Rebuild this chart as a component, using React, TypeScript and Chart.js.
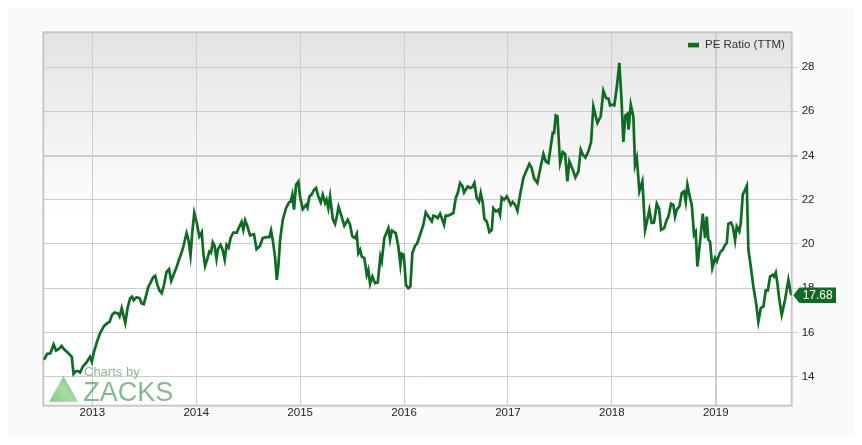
import { useEffect, useRef } from "react";
import { Chart, registerables } from "chart.js";

Chart.register(...registerables);

const SERIES_LABEL = "PE Ratio (TTM)";
const LAST_LABEL = "17.68";
const YEAR_TICKS = [2013, 2014, 2015, 2016, 2017, 2018, 2019];
const Y_TICKS = [14, 16, 18, 20, 22, 24, 26, 28];
const X_MIN = 2012.528;
const X_MAX = 2019.731;
const Y_MIN = 12.69;
const Y_MAX = 29.57;

const X_YEARS = [
  2012.535, 2012.564, 2012.596, 2012.627, 2012.651, 2012.675, 2012.704, 2012.728, 2012.757, 2012.776,
  2012.802, 2012.819, 2012.840, 2012.858, 2012.882, 2012.906, 2012.944, 2012.978, 2012.995, 2013.016,
  2013.045, 2013.077, 2013.113, 2013.141, 2013.166, 2013.190, 2013.214, 2013.247, 2013.262, 2013.283,
  2013.300, 2013.317, 2013.339, 2013.363, 2013.382, 2013.398, 2013.425, 2013.454, 2013.475, 2013.495,
  2013.519, 2013.538, 2013.560, 2013.584, 2013.605, 2013.623, 2013.644, 2013.668, 2013.688, 2013.714,
  2013.738, 2013.759, 2013.782, 2013.810, 2013.834, 2013.857, 2013.878, 2013.907, 2013.926, 2013.945,
  2013.964, 2013.981, 2014.005, 2014.030, 2014.053, 2014.068, 2014.085, 2014.107, 2014.126, 2014.142,
  2014.159, 2014.176, 2014.195, 2014.210, 2014.234, 2014.253, 2014.274, 2014.292, 2014.311, 2014.332,
  2014.357, 2014.390, 2014.412, 2014.436, 2014.453, 2014.470, 2014.492, 2014.518, 2014.556, 2014.580,
  2014.614, 2014.640, 2014.672, 2014.704, 2014.720, 2014.736, 2014.758, 2014.775, 2014.790, 2014.807,
  2014.833, 2014.864, 2014.893, 2014.908, 2014.925, 2014.941, 2014.961, 2014.983, 2014.999, 2015.025,
  2015.057, 2015.071, 2015.089, 2015.110, 2015.134, 2015.153, 2015.175, 2015.198, 2015.218, 2015.240,
  2015.254, 2015.271, 2015.288, 2015.314, 2015.336, 2015.352, 2015.370, 2015.394, 2015.425, 2015.458,
  2015.480, 2015.502, 2015.528, 2015.545, 2015.560, 2015.577, 2015.593, 2015.618, 2015.641, 2015.656,
  2015.673, 2015.695, 2015.721, 2015.747, 2015.772, 2015.785, 2015.810, 2015.849, 2015.865, 2015.882,
  2015.920, 2015.945, 2015.965, 2015.978, 2015.997, 2016.019, 2016.041, 2016.061, 2016.080, 2016.106,
  2016.125, 2016.154, 2016.186, 2016.209, 2016.234, 2016.267, 2016.282, 2016.305, 2016.324, 2016.347,
  2016.363, 2016.385, 2016.401, 2016.426, 2016.475, 2016.498, 2016.517, 2016.539, 2016.561, 2016.578,
  2016.597, 2016.613, 2016.635, 2016.657, 2016.677, 2016.700, 2016.722, 2016.738, 2016.758, 2016.773,
  2016.796, 2016.821, 2016.844, 2016.860, 2016.886, 2016.908, 2016.924, 2016.940, 2016.963, 2016.989,
  2017.014, 2017.027, 2017.046, 2017.069, 2017.091, 2017.117, 2017.148, 2017.181, 2017.206, 2017.229,
  2017.251, 2017.283, 2017.309, 2017.341, 2017.364, 2017.389, 2017.412, 2017.431, 2017.444, 2017.460,
  2017.476, 2017.502, 2017.528, 2017.550, 2017.572, 2017.591, 2017.624, 2017.649, 2017.678, 2017.701,
  2017.720, 2017.745, 2017.774, 2017.800, 2017.822, 2017.841, 2017.861, 2017.893, 2017.918, 2017.944,
  2017.967, 2017.983, 2018.009, 2018.024, 2018.047, 2018.072, 2018.092, 2018.111, 2018.130, 2018.149,
  2018.161, 2018.182, 2018.207, 2018.223, 2018.240, 2018.265, 2018.294, 2018.320, 2018.342, 2018.361,
  2018.384, 2018.406, 2018.432, 2018.455, 2018.474, 2018.503, 2018.529, 2018.544, 2018.570, 2018.592,
  2018.608, 2018.625, 2018.650, 2018.673, 2018.695, 2018.711, 2018.727, 2018.753, 2018.769, 2018.791,
  2018.807, 2018.823, 2018.849, 2018.875, 2018.897, 2018.913, 2018.929, 2018.945, 2018.967, 2018.993,
  2019.010, 2019.041, 2019.067, 2019.090, 2019.106, 2019.121, 2019.147, 2019.164, 2019.186, 2019.202,
  2019.227, 2019.241, 2019.260, 2019.282, 2019.299, 2019.314, 2019.337, 2019.362, 2019.388, 2019.410,
  2019.433, 2019.458, 2019.481, 2019.501, 2019.523, 2019.549, 2019.561, 2019.578, 2019.593, 2019.612,
  2019.635, 2019.667, 2019.699, 2019.722, 2019.731,
];

const PE_VALUES = [
  14.76, 15.03, 15.06, 15.46, 15.18, 15.24, 15.39, 15.24, 15.12, 15.03,
  14.90, 14.13, 14.24, 14.26, 14.19, 14.44, 14.65, 14.90, 14.68, 15.12,
  15.59, 16.00, 16.30, 16.41, 16.48, 16.80, 16.90, 16.86, 16.72, 17.10,
  16.75, 16.43, 17.11, 17.54, 17.62, 17.46, 17.59, 17.55, 17.31, 17.28,
  17.70, 18.06, 18.24, 18.49, 18.56, 18.21, 17.91, 17.78, 18.11, 18.74,
  18.86, 18.33, 18.61, 18.95, 19.29, 19.59, 19.92, 20.49, 20.17, 19.49,
  20.64, 21.40, 20.95, 20.34, 20.53, 19.60, 19.01, 19.33, 19.66, 19.60,
  20.08, 19.92, 19.33, 19.78, 19.96, 19.74, 19.29, 19.96, 19.83, 20.30,
  20.51, 20.51, 20.76, 21.00, 20.64, 21.07, 20.80, 20.39, 20.44, 19.76,
  19.92, 20.27, 20.31, 20.31, 20.61, 20.19, 19.43, 18.38, 18.98, 20.19,
  21.10, 21.62, 21.88, 21.91, 22.23, 21.55, 22.68, 22.83, 22.15, 21.58,
  21.77, 21.64, 22.15, 22.23, 22.45, 22.53, 22.15, 21.88, 22.23, 21.85,
  22.00, 21.62, 22.15, 21.13, 20.91, 21.22, 21.68, 21.32, 20.82, 21.10,
  20.87, 20.34, 20.27, 20.46, 19.59, 19.74, 19.43, 19.36, 18.61, 18.83,
  18.20, 18.53, 18.23, 18.26, 19.43, 19.21, 20.27, 20.72, 20.19, 20.61,
  20.49, 19.89, 19.06, 19.56, 19.51, 18.15, 18.00, 18.08, 19.59, 19.92,
  20.01, 20.42, 20.87, 21.43, 21.24, 21.02, 21.28, 21.24, 21.17, 21.37,
  21.17, 20.87, 21.28, 21.28, 21.40, 22.08, 22.30, 22.76, 22.63, 22.33,
  22.48, 22.60, 22.53, 22.57, 22.76, 22.08, 21.92, 22.30, 21.85, 21.13,
  21.02, 20.54, 20.64, 21.62, 21.47, 21.55, 21.32, 22.10, 22.00, 22.15,
  21.92, 21.77, 21.90, 21.77, 21.50, 22.23, 22.98, 23.36, 23.62, 23.43,
  22.98, 22.76, 23.36, 24.07, 23.73, 23.66, 24.41, 25.02, 25.02, 25.81,
  25.77, 23.66, 24.16, 24.07, 22.83, 23.73, 23.36, 23.01, 23.28, 24.26,
  24.04, 23.91, 24.19, 24.61, 26.22, 25.85, 25.47, 25.77, 26.93, 26.60,
  26.57, 26.27, 26.30, 26.27, 27.05, 28.19, 26.60, 24.61, 25.80, 25.88,
  25.17, 26.30, 25.77, 23.58, 23.89, 22.38, 22.83, 20.64, 21.10, 21.55,
  20.95, 20.97, 21.82, 21.59, 20.64, 20.72, 21.10, 21.22, 21.82, 21.77,
  21.24, 21.55, 21.70, 22.30, 22.38, 21.92, 22.68, 22.08, 21.77, 20.42,
  20.55, 18.98, 20.11, 21.37, 20.27, 21.24, 20.19, 20.11, 18.91, 19.36,
  19.21, 19.62, 19.74, 19.96, 20.04, 20.91, 20.97, 20.79, 20.16, 20.79,
  20.57, 20.95, 22.23, 22.45, 22.63, 19.74, 18.98, 18.08, 17.33, 16.49,
  17.10, 17.17, 17.90, 17.90, 18.53, 18.61, 18.53, 18.71, 18.23, 17.48,
  16.80, 17.48, 18.38, 17.79, 17.68,
];

const LINE_COLOR = "#0e6b22";
const GRID_COLOR = "#cccccc";
const FONT = "Arial, 'Liberation Sans', sans-serif";

const decorPlugin = {
  id: "decor",
  beforeDraw(chart: any) {
    const { ctx, chartArea: a } = chart;
    ctx.save();
    const g = ctx.createLinearGradient(0, a.top, 0, a.bottom);
    g.addColorStop(0, "#e3e3e3");
    g.addColorStop(0.5, "#ffffff");
    g.addColorStop(1, "#ffffff");
    ctx.fillStyle = g;
    ctx.fillRect(a.left, a.top, a.right - a.left, a.bottom - a.top);
    ctx.restore();
  },
  beforeDatasetsDraw(chart: any) {
    const { ctx, chartArea: a } = chart;
    ctx.save();
    ctx.strokeStyle = "#c8c8c8";
    ctx.lineWidth = 2;
    ctx.strokeRect(a.left, a.top, a.right - a.left, a.bottom - a.top);
    const bx = a.left;
    const by = a.bottom;
    const tg = ctx.createLinearGradient(bx + 6, by - 4, bx + 34, by - 28);
    tg.addColorStop(0, "rgba(110,190,110,0.85)");
    tg.addColorStop(0.5, "rgba(150,215,150,0.85)");
    tg.addColorStop(1, "rgba(90,175,95,0.85)");
    ctx.fillStyle = tg;
    ctx.beginPath();
    ctx.moveTo(bx + 5.7, by - 4);
    ctx.lineTo(bx + 34.7, by - 4);
    ctx.lineTo(bx + 20.2, by - 29.7);
    ctx.closePath();
    ctx.fill();
    ctx.fillStyle = "rgba(85,160,105,0.72)";
    ctx.textAlign = "left";
    ctx.textBaseline = "alphabetic";
    ctx.font = `13px ${FONT}`;
    ctx.fillText("Charts by", bx + 40.7, by - 30.2);
    ctx.font = `27px ${FONT}`;
    ctx.fillText("ZACKS", bx + 40, by - 4.7);
    ctx.restore();
  },
  afterDraw(chart: any) {
    const { ctx, chartArea: a } = chart;
    ctx.save();
    ctx.fillStyle = LINE_COLOR;
    ctx.fillRect(680, 34.8, 11, 4.6);
    ctx.fillStyle = "#333333";
    ctx.font = `11.5px ${FONT}`;
    ctx.textAlign = "left";
    ctx.textBaseline = "middle";
    ctx.fillText(chart.data.datasets[0].label, 697, 37.2);
    const last = PE_VALUES[PE_VALUES.length - 1];
    const y = chart.scales.y.getPixelForValue(last);
    const x0 = a.right + 1.6;
    ctx.fillStyle = LINE_COLOR;
    ctx.beginPath();
    ctx.moveTo(x0, y);
    ctx.lineTo(x0 + 6, y - 7.7);
    ctx.lineTo(x0 + 42.7, y - 7.7);
    ctx.lineTo(x0 + 42.7, y + 7.7);
    ctx.lineTo(x0 + 6, y + 7.7);
    ctx.closePath();
    ctx.fill();
    ctx.fillStyle = "#ffffff";
    ctx.textAlign = "center";
    ctx.font = `12px ${FONT}`;
    ctx.fillText(LAST_LABEL, x0 + 24.4, y + 0.5);
    ctx.restore();
  },
};

export default function App() {
  const ref = useRef<HTMLCanvasElement | null>(null);
  useEffect(() => {
    if (!ref.current) return;
    const points = X_YEARS.map((x, i) => ({ x, y: PE_VALUES[i] }));
    const chart = new Chart(ref.current, {
      type: "line",
      data: {
        datasets: [
          {
            label: SERIES_LABEL,
            data: points,
            borderColor: LINE_COLOR,
            backgroundColor: LINE_COLOR,
            borderWidth: 2.7,
            pointRadius: 0,
            tension: 0,
            fill: false,
          },
        ],
      },
      options: {
        animation: false,
        responsive: false,
        devicePixelRatio: 1,
        layout: { padding: { left: 35.3, top: 24.3, right: 0, bottom: 0 } },
        plugins: { legend: { display: false }, tooltip: { enabled: false } },
        scales: {
          x: {
            type: "linear",
            min: X_MIN,
            max: X_MAX,
            afterBuildTicks: (s: any) => {
              s.ticks = YEAR_TICKS.map((v) => ({ value: v }));
            },
            afterFit: (s: any) => {
              s.height = 31.3;
            },
            ticks: {
              callback: (v: any) => String(v),
              color: "#222222",
              font: { family: FONT, size: 11.5 },
              padding: 0,
              maxRotation: 0,
              autoSkip: false,
            },
            grid: {
              drawTicks: false,
              color: GRID_COLOR,
              lineWidth: (c: any) => (c.tick && c.tick.value === 2019 ? 2 : 1),
            },
            border: { display: false },
          },
          y: {
            type: "linear",
            position: "right",
            min: Y_MIN,
            max: Y_MAX,
            afterBuildTicks: (s: any) => {
              s.ticks = Y_TICKS.map((v) => ({ value: v }));
            },
            afterFit: (s: any) => {
              s.width = 63.3;
            },
            ticks: {
              callback: (v: any) => String(v),
              color: "#222222",
              font: { family: FONT, size: 11.5 },
              padding: 4,
            },
            grid: {
              tickLength: 6,
              color: GRID_COLOR,
              lineWidth: (c: any) => (c.tick && c.tick.value === 24 ? 2 : 1),
            },
            border: { display: false },
          },
        },
      },
      plugins: [decorPlugin],
    } as any);
    return () => chart.destroy();
  }, []);

  return (
    <div
      style={{
        width: 847,
        height: 429,
        background: "#fafafa",
        boxShadow: "2px 2px 6px rgba(0,0,0,0.35)",
      }}
    >
      <canvas ref={ref} width={847} height={429} style={{ display: "block" }} />
    </div>
  );
}
